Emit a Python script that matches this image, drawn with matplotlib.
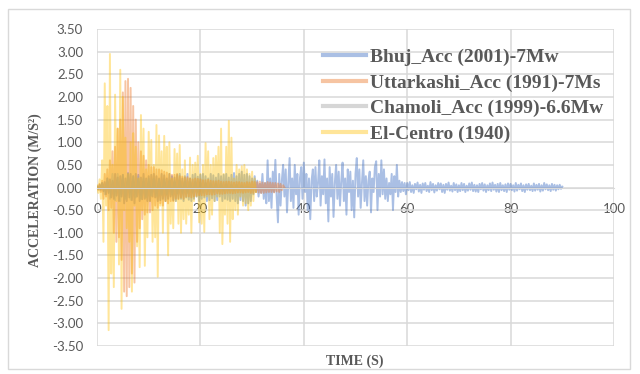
import numpy as np
import matplotlib
matplotlib.use('Agg')
import matplotlib.pyplot as plt
from matplotlib.patches import Rectangle
from matplotlib.lines import Line2D

# sample steps (s)
dt_fine = 0.25
dt_coarse = 0.5

el_centro = [
    0.05, -0.12, 0.18, -0.25,
    0.6, -1.2, 2.3, -0.4,
    1.8, -3.15, 2.95, -1.9,
    0.5, -2.2, 2.05, -0.3,
    1.3, -1.7, 2.6, -2.68,
    2.0, -0.5, 1.1, -0.9,
    0.3, -1.2, 1.0, -2.3,
    1.2, -0.4, 0.9, -1.3,
    0.2, -1.76, 1.6, -0.5,
    1.3, -1.73, 0.4, -1.1,
    1.23, -0.3, 1.05, -1.2,
    0.5, -1.1, 1.38, -1.97,
    1.15, -0.4, 0.8, -1.0,
    1.14, -0.3, 0.9, -1.5,
    1.0, -0.8, 0.2, -0.9,
    0.85, -0.3, 0.75, -0.8,
    0.94, -1.0, 0.4, -0.7,
    0.6, -0.8, 0.2, -0.6,
    0.66, -1.0, 0.5, -0.3,
    0.55, -0.2, 0.7, -0.77,
    0.3, -0.8, 0.5, -0.98,
    0.98, -0.2, 0.8, -0.7,
    0.5, -0.6, 0.65, -0.3,
    0.7, -0.2, 0.9, -1.0,
    1.3, -1.25, 0.3, -0.6,
    0.9, -0.8, 1.47, -1.2,
    1.1, -0.7, 0.2, -0.5,
    0.5, -0.6, 0.4, -0.2,
    0.47, -0.4, 0.5, -0.35,
    0.4, -0.5, 0.3, -0.4,
    0.35, -0.3, 0.2, -0.1,
]

uttarkashi = [
    0.02, -0.05, 0.08, -0.1,
    0.15, -0.25, 0.3, -0.2,
    0.4, -0.5, 0.6, -0.45,
    0.8, -1.0, 0.9, -1.2,
    1.3, -1.1, 1.5, -1.6,
    2.1, -2.3, 2.35, -2.4,
    2.4, -2.2, 2.2, -1.9,
    1.8, -2.1, 1.5, -1.2,
    1.0, -0.9, 0.8, -0.7,
    0.7, -0.6, 0.6, -0.55,
    0.5, -0.55, 0.45, -0.5,
    0.45, -0.4, 0.4, -0.45,
    0.4, -0.35, 0.38, -0.4,
    0.35, -0.3, 0.33, -0.35,
    0.3, -0.3, 0.28, -0.3,
    0.28, -0.25, 0.3, -0.26,
    0.25, -0.22, 0.24, -0.25,
    0.22, -0.2, 0.23, -0.2,
    0.2, -0.22, 0.18, -0.2,
    0.2, -0.18, 0.19, -0.17,
    0.18, -0.17, 0.16, -0.18,
    0.16, -0.15, 0.17, -0.15,
    0.15, -0.16, 0.14, -0.15,
    0.14, -0.13, 0.15, -0.14,
    0.13, -0.14, 0.12, -0.13,
    0.13, -0.12, 0.13, -0.12,
    0.12, -0.13, 0.11, -0.12,
    0.12, -0.11, 0.12, -0.11,
    0.11, -0.12, 0.1, -0.11,
    0.12, -0.1, 0.11, -0.12,
    0.13, -0.12, 0.12, -0.1,
    0.12, -0.11, 0.13, -0.12,
    0.11, -0.12, 0.1, -0.11,
    0.12, -0.1, 0.11, -0.1,
    0.1, -0.11, 0.1, -0.09,
    0.09, -0.1, 0.08, -0.06,
    0.05, 0.0,
]

chamoli = [
    0.02, -0.05, 0.1, -0.15, 0.2, -0.25, 0.3, -0.28, 0.3, -0.3,
    0.28, -0.25, 0.3, -0.27, 0.25, -0.22, 0.24, -0.25, 0.2, -0.22,
    0.2, -0.18, 0.19, -0.2, 0.17, -0.16, 0.18, -0.15, 0.15, -0.16,
    0.14, -0.13, 0.15, -0.12, 0.13, -0.12, 0.12, -0.11, 0.12, -0.1,
    0.1, -0.11, 0.1, -0.09, 0.09, -0.1, 0.08, -0.08, 0.08, -0.07,
    0.07, -0.06, 0.06, -0.06, 0.05, -0.05, 0.04, -0.03, 0.02, 0.0,
]

bhuj = [
    # 0-10 s
    0.02, -0.04, 0.06, -0.05, 0.1, -0.08, 0.12, -0.15, 0.2, -0.12,
    0.18, -0.22, 0.15, -0.25, 0.3, -0.18, 0.22, -0.3, 0.25, -0.2,
    0.28, -0.35, 0.2, -0.3, 0.32, -0.22, 0.3, -0.28, 0.25, -0.35,
    0.3, -0.2, 0.28, -0.3, 0.22, -0.26, 0.3, -0.25, 0.2, -0.3,
    # 10-20 s
    0.25, -0.3, 0.28, -0.2, 0.3, -0.22, 0.25, -0.3, 0.2, -0.28,
    0.3, -0.25, 0.27, -0.3, 0.2, -0.25, 0.3, -0.2, 0.25, -0.28,
    0.22, -0.3, 0.28, -0.24, 0.3, -0.25, 0.2, -0.3, 0.25, -0.22,
    0.3, -0.27, 0.2, -0.3, 0.28, -0.25, 0.3, -0.2, 0.24, -0.3,
    # 20-30 s
    0.28, -0.25, 0.3, -0.22, 0.25, -0.3, 0.2, -0.28, 0.3, -0.24,
    0.27, -0.3, 0.22, -0.28, 0.3, -0.2, 0.25, -0.3, 0.28, -0.25,
    0.3, -0.27, 0.22, -0.3, 0.28, -0.25, 0.32, -0.3, 0.25, -0.35,
    0.3, -0.28, 0.35, -0.3, 0.28, -0.4, 0.3, -0.35, 0.25, -0.3,
    # 30-40 s
    0.2, -0.15, 0.25, -0.1, 0.15, -0.2, 0.08, -0.12, 0.3, -0.25,
    0.1, -0.35, 0.6, -0.3, 0.2, -0.45, 0.35, -0.1, 0.61, -0.2,
    -0.77, 0.3, -0.4, 0.15, 0.5, -0.2, 0.4, -0.55, 0.1, 0.65,
    -0.3, 0.2, -0.45, 0.5, -0.15, 0.3, -0.6, 0.2, 0.45, -0.25,
    # 40-50 s
    0.55, -0.1, 0.3, -0.5, 0.2, -0.7, 0.15, 0.4, -0.3, 0.45,
    -0.2, 0.1, 0.6, -0.4, 0.25, -0.15, 0.62, -0.35, 0.2, -0.75,
    0.45, -0.2, 0.3, -0.65, 0.1, 0.5, -0.25, 0.35, -0.4, 0.15,
    0.55, -0.3, 0.2, -0.6, 0.4, -0.1, 0.35, -0.5, 0.15, -0.66,
    # 50-60 s
    0.3, 0.65, -0.2, 0.4, -0.45, 0.1, 0.6, -0.3, 0.25, -0.4,
    0.15, 0.35, -0.55, 0.2, -0.1, 0.45, 0.58, -0.5, 0.3, -0.2,
    0.6, -0.15, 0.4, -0.25, 0.2, -0.3, 0.1, -0.15, 0.3, -0.5,
    0.25, -0.1, 0.5, -0.2, 0.15, -0.1, 0.12, -0.08, 0.1, -0.15,
    # 60-70 s
    0.1, -0.06, 0.12, -0.1, 0.05, -0.12, 0.08, -0.04, 0.11, -0.09,
    0.06, -0.12, 0.09, -0.05, 0.1, -0.08, 0.04, -0.1, 0.12, -0.06,
    0.08, -0.11, 0.05, -0.07, 0.1, -0.04, 0.09, -0.1, 0.06, -0.12,
    0.08, -0.05, 0.11, -0.07, 0.04, -0.09, 0.1, -0.06, 0.07, -0.1,
    # 70-80 s
    0.05, -0.08, 0.1, -0.06, 0.08, -0.1, 0.04, -0.07, 0.09, -0.05,
    0.11, -0.08, 0.06, -0.09, 0.05, -0.1, 0.08, -0.04, 0.1, -0.07,
    0.07, -0.1, 0.05, -0.06, 0.09, -0.08, 0.11, -0.05, 0.06, -0.09,
    0.08, -0.1, 0.1, -0.06, 0.05, -0.08, 0.07, -0.1, 0.09, -0.05,
    # 80-90 s
    0.08, -0.06, 0.05, -0.09, 0.1, -0.07, 0.06, -0.04, 0.09, -0.08,
    0.05, -0.1, 0.07, -0.05, 0.08, -0.06, 0.04, -0.08, 0.09, -0.07,
    0.06, -0.05, 0.08, -0.09, 0.05, -0.07, 0.1, -0.04, 0.07, -0.06,
    0.05, -0.08, 0.08, -0.05, 0.06, -0.07, 0.05, -0.04, 0.06, -0.03,
    0.02,
]

series = [
    ("Bhuj_Acc (2001)-7Mw", bhuj, dt_fine, "#4472C4", 0.45),
    ("Uttarkashi_Acc (1991)-7Ms", uttarkashi, dt_fine, "#ED7D31", 0.45),
    ("Chamoli_Acc (1999)-6.6Mw", chamoli, dt_coarse, "#A5A5A5", 0.45),
    ("El-Centro (1940)", el_centro, dt_fine, "#FFC000", 0.4),
]

y_ticks = np.arange(-3.5, 3.51, 0.5)
x_ticks = [0, 20, 40, 60, 80, 100]
grey = "#595959"
grid_c = "#D9D9D9"

fig = plt.figure(figsize=(6.4, 3.74), dpi=100)
ax = fig.add_axes([97 / 640, 1 - 346 / 374, 517 / 640, 317 / 374])

handles = []
for name, vals, dt, col, a in series:
    t = np.arange(len(vals)) * dt
    ax.plot(t, vals, color=col, alpha=a, lw=1.4)
    handles.append(Line2D([], [], color=col, alpha=a, lw=3, label=name))

ax.set_xlim(0, 100)
ax.set_ylim(-3.5, 3.5)
ax.set_xticks(x_ticks)
ax.set_yticks(y_ticks)
ax.set_yticklabels([f"{v:.2f}" for v in y_ticks])
ax.grid(True, color=grid_c, lw=1.1)
ax.set_axisbelow(True)
for s in ['top', 'right', 'left']:
    ax.spines[s].set_visible(False)
ax.spines['bottom'].set_position(('data', 0))
ax.spines['bottom'].set_color(grid_c)
ax.tick_params(axis='both', length=0, labelcolor=grey, labelsize=9.5)
ax.tick_params(axis='x', pad=11)
ax.tick_params(axis='y', pad=10)
for lab in ax.get_xticklabels() + ax.get_yticklabels():
    lab.set_fontfamily('Lato')

fig.text(35 / 640, 1 - 190 / 374, "ACCELERATION (M/S²)", rotation=90,
         ha='center', va='center', fontsize=10, fontweight='bold',
         family='Liberation Serif', color=grey)
fig.text(355 / 640, 1 - 361 / 374, "TIME (S)", ha='center', va='center',
         fontsize=10, fontweight='bold', family='Liberation Serif', color=grey)

leg = ax.legend(handles=handles, loc='upper left', frameon=False,
                bbox_to_anchor=(323 / 640, 1 - 48 / 374),
                bbox_transform=fig.transFigure, borderpad=0, borderaxespad=0,
                handlelength=2.2, handletextpad=0.2, labelspacing=0.42,
                prop={'family': 'Liberation Serif', 'weight': 'bold', 'size': 14})
for txt in leg.get_texts():
    txt.set_color(grey)

fig.patches.append(Rectangle((8 / 640, 1 - 369 / 374), 622 / 640, 360 / 374,
                             transform=fig.transFigure, fill=False,
                             edgecolor=grid_c, lw=1))

fig.savefig("out.png", dpi=100)
